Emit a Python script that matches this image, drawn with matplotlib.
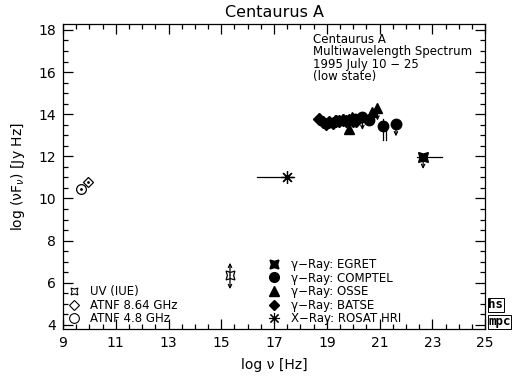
import matplotlib
matplotlib.use('Agg')
import matplotlib.pyplot as plt
from matplotlib.lines import Line2D
from matplotlib.ticker import MultipleLocator, FixedLocator

plt.rcParams['font.family'] = ['DejaVu Sans']

# ---------------- data (log nu [Hz], log nuFnu [Jy Hz]) ----------------
radio48_x = [9.68]
radio48_y = [10.45]
radio864_x = [9.94]
radio864_y = [10.78]

uv_x = [15.33]
uv_y = [6.37]
uv_lo = [5.7]
uv_hi = [6.95]

rosat_x = [17.48]
rosat_y = [11.03]
rosat_xlo = [16.37]
rosat_xhi = [17.76]

egret_x = [22.65]
egret_y = [11.95]
egret_xlo = [22.4]
egret_xhi = [23.38]
egret_lim = [11.4]

batse_x = [18.72, 18.85, 18.98, 19.1, 19.22, 19.35, 19.48, 19.6, 19.72, 19.85, 19.98, 20.1]
batse_y = [13.78, 13.62, 13.55, 13.62, 13.58, 13.7, 13.66, 13.72, 13.68, 13.74, 13.7, 13.66]

osse_x = [19.3, 19.6, 19.95, 19.85, 20.72, 20.92]
osse_y = [13.72, 13.78, 13.85, 13.28, 14.12, 14.28]
osse_lim_x = [20.92]
osse_lim_from = [14.05]
osse_lim_to = [13.7]

comptel_x = [20.05, 20.35, 20.6, 21.12, 21.62]
comptel_y = [13.78, 13.88, 13.72, 13.42, 13.52]
comptel_err_x = [21.12]
comptel_err_lo = [12.78]
comptel_err_hi = [13.75]
comptel_lim_x = [20.35, 21.62]
comptel_lim_from = [13.75, 13.4]
comptel_lim_to = [13.25, 12.95]
comptel_xbar_x = [21.62]
comptel_xbar_lo = [21.42]
comptel_xbar_hi = [21.82]

x_ticks = [9, 11, 13, 15, 17, 19, 21, 23, 25]
y_ticks = [4, 6, 8, 10, 12, 14, 16, 18]

# ---------------- figure ----------------
fig = plt.figure(figsize=(5.25, 3.87), dpi=100)
ax = fig.add_axes([0.12, 0.150, 0.804, 0.788])

lw = 0.9
star4 = (4, 1, 45)
aster = (8, 2, 0)

def arrow(x, y0, y1):
    ax.annotate('', xy=(x, y1), xytext=(x, y0),
                arrowprops=dict(arrowstyle='->', lw=lw, color='k',
                                shrinkA=0, shrinkB=0, mutation_scale=6))

# radio
ax.plot(radio48_x, radio48_y, 'o', ms=7, mfc='none', mec='k', mew=lw, ls='none')
ax.plot(radio864_x, radio864_y, 'D', ms=5, mfc='none', mec='k', mew=lw, ls='none')
ax.plot(radio48_x + radio864_x, radio48_y + radio864_y, '.', ms=2, color='k', ls='none')

# UV
for x, y, lo, hi in zip(uv_x, uv_y, uv_lo, uv_hi):
    arrow(x, y, hi)
    arrow(x, y, lo)
ax.plot(uv_x, uv_y, marker=star4, ms=9, mfc='white', mec='k', mew=lw, ls='none')

# ROSAT
for x, y, lo, hi in zip(rosat_x, rosat_y, rosat_xlo, rosat_xhi):
    ax.plot([lo, hi], [y, y], color='k', lw=lw)
ax.plot(rosat_x, rosat_y, marker=aster, ms=9, color='k', mew=lw, ls='none')

# EGRET
for x, y, lo, hi, lim in zip(egret_x, egret_y, egret_xlo, egret_xhi, egret_lim):
    ax.plot([lo, hi], [y, y], color='k', lw=lw)
    arrow(x, y, lim)
ax.plot(egret_x, egret_y, marker=star4, ms=10, color='k', ls='none')

# BATSE
ax.plot(batse_x, batse_y, 'D', ms=6, color='k', ls='none')

# OSSE
for x, y0, y1 in zip(osse_lim_x, osse_lim_from, osse_lim_to):
    arrow(x, y0, y1)
ax.plot(osse_x, osse_y, '^', ms=7, color='k', ls='none')

# COMPTEL
for x, lo, hi in zip(comptel_err_x, comptel_err_lo, comptel_err_hi):
    ax.plot([x, x], [lo, hi], color='k', lw=lw)
    ax.plot([x + 0.12, x + 0.12], [lo, hi - 0.1], color='k', lw=lw)
for x, y0, y1 in zip(comptel_lim_x, comptel_lim_from, comptel_lim_to):
    arrow(x, y0, y1)
for x, lo, hi, y in zip(comptel_xbar_x, comptel_xbar_lo, comptel_xbar_hi, comptel_y[-1:]):
    ax.plot([lo, hi], [y, y], color='k', lw=lw)
ax.plot(comptel_x, comptel_y, 'o', ms=7.5, color='k', ls='none')

# ---------------- axes ----------------
ax.set_xlim(9, 25)
ax.set_ylim(3.81, 18.28)
ax.xaxis.set_major_locator(FixedLocator(x_ticks))
ax.xaxis.set_minor_locator(MultipleLocator(0.5))
ax.yaxis.set_major_locator(FixedLocator(y_ticks))
ax.yaxis.set_minor_locator(MultipleLocator(0.5))
ax.tick_params(which='both', direction='in', top=True, right=True, width=lw, labelsize=10)
ax.tick_params(which='major', length=7, pad=5)
ax.tick_params(which='minor', length=3.5)
for s in ax.spines.values():
    s.set_linewidth(lw)

ax.set_title('Centaurus A', fontsize=11.5, pad=5)
ax.set_xlabel('log ν [Hz]', fontsize=10, labelpad=6)
ax.set_ylabel('log (νF$_{\\nu}$) [Jy Hz]', fontsize=10, labelpad=8)

ax.text(0.592, 0.972, 'Centaurus A\nMultiwavelength Spectrum\n1995 July 10 − 25\n(low state)',
        transform=ax.transAxes, ha='left', va='top', fontsize=8.5, linespacing=0.95)

# legends
h_left = [
    Line2D([], [], marker=star4, ms=7, mfc='white', mec='k', mew=0.8, ls='none'),
    Line2D([], [], marker='D', ms=5, mfc='none', mec='k', mew=0.8, ls='none'),
    Line2D([], [], marker='o', ms=7, mfc='none', mec='k', mew=0.8, ls='none'),
]
l_left = ['UV (IUE)', 'ATNF 8.64 GHz', 'ATNF 4.8 GHz']
leg1 = ax.legend(h_left, l_left, loc='lower left', bbox_to_anchor=(0.012, 0.012),
                 frameon=False, fontsize=8.5, handlelength=1.0, handletextpad=0.9,
                 labelspacing=0.05, borderpad=0, borderaxespad=0)
ax.add_artist(leg1)

h_right = [
    Line2D([], [], marker=star4, ms=9, color='k', ls='none'),
    Line2D([], [], marker='o', ms=7, color='k', ls='none'),
    Line2D([], [], marker='^', ms=7, color='k', ls='none'),
    Line2D([], [], marker='D', ms=5.5, color='k', ls='none'),
    Line2D([], [], marker=aster, ms=8, color='k', mew=0.8, ls='none'),
]
l_right = ['γ−Ray: EGRET', 'γ−Ray: COMPTEL', 'γ−Ray: OSSE', 'γ−Ray: BATSE', 'X−Ray: ROSAT HRI']
ax.legend(h_right, l_right, loc='lower left', bbox_to_anchor=(0.487, 0.012),
          frameon=False, fontsize=8.5, handlelength=1.0, handletextpad=0.9,
          labelspacing=0.05, borderpad=0, borderaxespad=0)

# logo
fig.text(0.930, 0.196, 'hs', fontsize=9, family='DejaVu Sans Mono', weight='bold', ha='left', va='bottom',
         bbox=dict(boxstyle='square,pad=0.05', fc='white', ec='k', lw=0.7))
fig.text(0.930, 0.152, 'mpc', fontsize=9, family='DejaVu Sans Mono', weight='bold', ha='left', va='bottom',
         bbox=dict(boxstyle='square,pad=0.05', fc='white', ec='k', lw=0.7))

fig.savefig('out.png', dpi=100)
